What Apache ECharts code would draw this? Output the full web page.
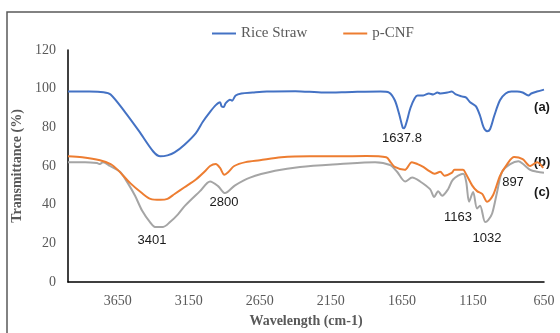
<!DOCTYPE html>
<html>
<head>
<meta charset="utf-8">
<script src="https://cdn.jsdelivr.net/npm/echarts@6/dist/echarts.min.js"></script>
<style>
  html, body { margin: 0; padding: 0; background: #fff; }
  #container { width: 560px; height: 333px; }
</style>
</head>
<body>
<div id="container"></div>
<script>
// FTIR spectra: [wavenumber, transmittance %]
const riceStraw = [
  [4000, 98.5], [3850, 98.5], [3750, 98.2], [3700, 97], [3600, 88], [3500, 78],
  [3400, 67.5], [3350, 65], [3300, 65.5], [3250, 67], [3180, 71], [3100, 77],
  [3050, 83], [3000, 88], [2960, 91.5], [2930, 93], [2920, 91], [2905, 90.5],
  [2890, 92.5], [2860, 94.3], [2845, 93.8], [2820, 96.5], [2780, 97.5], [2700, 98],
  [2600, 98.5], [2400, 98.7], [2200, 98], [2000, 98.3], [1800, 98.5], [1740, 98],
  [1700, 94], [1670, 87], [1645, 80], [1635, 79.5], [1620, 82], [1590, 90],
  [1560, 95], [1540, 96.5], [1500, 96.5], [1460, 97.5], [1430, 97], [1400, 98],
  [1380, 97.5], [1330, 98], [1300, 98.5], [1270, 97], [1230, 96], [1200, 95.5],
  [1170, 93], [1130, 91], [1100, 86], [1075, 80], [1050, 78], [1030, 79],
  [1000, 86], [960, 94], [920, 97.5], [880, 98.5], [840, 98.5], [800, 98],
  [760, 96.5], [740, 97.5], [700, 98.5], [650, 99.5]
];
const pCNF = [
  [4000, 65], [3900, 64.5], [3775, 63], [3700, 61], [3650, 58], [3560, 51],
  [3480, 46], [3420, 43], [3350, 42.5], [3300, 43], [3250, 45.5], [3180, 49],
  [3100, 53], [3040, 57], [3000, 60], [2960, 61], [2930, 59], [2900, 55.5],
  [2870, 57], [2830, 60], [2750, 62], [2650, 63], [2500, 64.5], [2300, 65],
  [2100, 65], [1900, 65.2], [1760, 64.5], [1730, 62], [1700, 59.5], [1630, 58],
  [1580, 62], [1540, 61], [1500, 59.5], [1460, 57.5], [1420, 56], [1380, 57],
  [1350, 55], [1300, 56.4], [1280, 58], [1220, 58], [1200, 56], [1156, 50],
  [1121, 47], [1085, 45.6], [1050, 41.5], [1008, 45], [959, 55], [909, 61],
  [860, 64.6], [800, 63.5], [747, 60], [698, 62], [656, 59]
];
const cnfC = [
  [4000, 62], [3880, 62], [3796, 61.5], [3775, 61], [3754, 62], [3704, 60],
  [3634, 57], [3578, 51], [3528, 44.6], [3479, 37], [3423, 31], [3388, 28.5],
  [3331, 28.5], [3282, 31], [3226, 35], [3176, 39.5], [3071, 47], [3000, 52],
  [2944, 49.6], [2895, 46], [2824, 50], [2719, 54], [2543, 57.5], [2367, 59.5],
  [2085, 61], [1839, 62], [1733, 60.5], [1684, 57], [1627, 52], [1578, 54],
  [1522, 52], [1452, 48], [1423, 44], [1395, 47], [1367, 44.6], [1325, 48],
  [1290, 53], [1219, 56], [1198, 52], [1177, 41.5], [1149, 46.6], [1121, 38],
  [1100, 39.5], [1064, 31], [1043, 32], [1015, 35.4], [980, 46.6], [945, 57],
  [888, 61], [830, 62.5], [797, 61], [747, 58], [698, 57], [650, 56.5]
];
const xTicks = [650, 1150, 1650, 2150, 2650, 3150, 3650];
const peakLabels = [
  ["1637.8", 402, 138], ["3401", 152, 240], ["2800", 224, 202],
  ["1163", 458, 217], ["1032", 487, 238], ["897", 513, 182]
];
const curveLabels = [["(a)", 542, 107], ["(b)", 542, 162], ["(c)", 542, 192]];

const serif = "'Liberation Serif', 'DejaVu Serif', serif";

function echartSetup(container) {
  let myChart = echarts.init(document.getElementById(container)),
    graphics = [];

  // outer frame (runs off the right/bottom edge like the source)
  graphics.push({
    type: "rect",
    shape: { x: 7, y: 12, width: 700, height: 500 },
    style: { fill: "none", stroke: "#595959", lineWidth: 1.5 },
    silent: true
  });
  peakLabels.forEach(function (p) {
    graphics.push({
      type: "text", x: p[1], y: p[2],
      style: {
        text: p[0], fill: "#1a1a1a", textAlign: "center", textVerticalAlign: "middle",
        font: "13px 'Liberation Sans', Arial, sans-serif"
      }
    });
  });
  curveLabels.forEach(function (p) {
    graphics.push({
      type: "text", x: p[1], y: p[2],
      style: {
        text: p[0], fill: "#1a1a1a", textAlign: "center", textVerticalAlign: "middle",
        font: "bold 13px 'Liberation Sans', Arial, sans-serif"
      }
    });
  });

  let option = {
    animation: false,
    legend: {
      left: 207,
      top: 21,
      icon: "rect",
      itemWidth: 24,
      itemHeight: 2,
      itemGap: 36,
      data: ["Rice Straw", "p-CNF"],
      textStyle: { fontFamily: serif, fontSize: 15, color: "#595959" }
    },
    grid: { left: 68, right: 16, top: 50, bottom: 49 },
    xAxis: {
      type: "value",
      inverse: true,
      min: 650,
      max: 4000,
      name: "Wavelength (cm-1)",
      nameLocation: "middle",
      nameGap: 32,
      nameTextStyle: { fontFamily: serif, fontSize: 14, fontWeight: "bold", color: "#595959" },
      axisLine: { lineStyle: { color: "#000", width: 1.5 } },
      axisTick: { show: false },
      splitLine: { show: false },
      axisLabel: {
        customValues: xTicks,
        margin: 12,
        formatter: function (v) { return String(v); },
        fontFamily: serif, fontSize: 14, color: "#595959"
      }
    },
    yAxis: {
      type: "value",
      min: 0,
      max: 120,
      interval: 20,
      name: "Transmittance (%)",
      nameLocation: "middle",
      nameGap: 34,
      nameTextStyle: { fontFamily: serif, fontSize: 14, fontWeight: "bold", color: "#595959" },
      axisLine: { show: true, lineStyle: { color: "#000", width: 1.5 } },
      axisTick: { show: false },
      splitLine: { show: false },
      axisLabel: { margin: 12, fontFamily: serif, fontSize: 14, color: "#595959" }
    },
    series: [
      {
        name: "Rice Straw", type: "line", symbol: "none", smooth: 0.3,
        lineStyle: { color: "#4472C4", width: 2 }, itemStyle: { color: "#4472C4" },
        data: riceStraw
      },
      {
        name: "c", type: "line", symbol: "none", smooth: 0.3,
        lineStyle: { color: "#A5A5A5", width: 2 }, itemStyle: { color: "#A5A5A5" },
        data: cnfC
      },
      {
        name: "p-CNF", type: "line", symbol: "none", smooth: 0.3,
        lineStyle: { color: "#ED7D31", width: 2 }, itemStyle: { color: "#ED7D31" },
        data: pCNF
      }
    ],
    graphic: graphics
  };
  myChart.setOption(option);
}

echartSetup("container");
</script>
</body>
</html>
